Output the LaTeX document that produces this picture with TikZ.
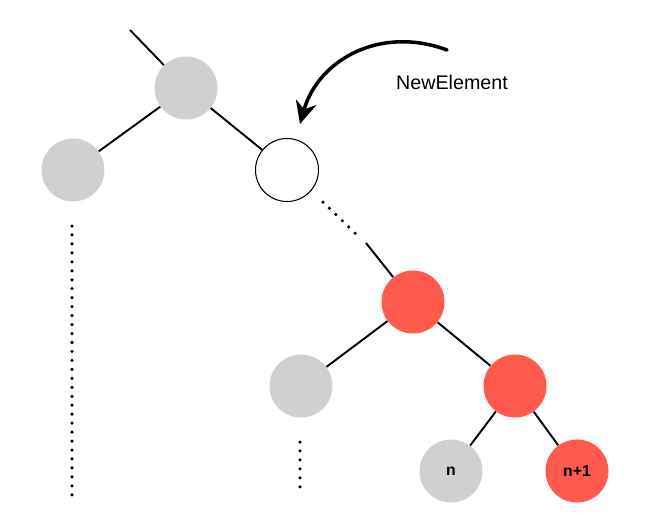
\documentclass[tikz,border=0pt]{standalone}
\usepackage{fontspec}
\setmainfont{Liberation Sans}
\usepackage{xcolor}
\usetikzlibrary{arrows.meta}
\definecolor{nodegrey}{HTML}{D0D0D0}
\definecolor{nodered}{HTML}{FF5A4C}

\begin{document}
\begin{tikzpicture}[x=0.02cm,y=-0.02cm,=>stealth,
  elem/.style={circle,minimum size=1.26cm,inner sep=0pt,font=\bfseries\small},
  greyelem/.style={elem,fill=nodegrey},
  redelem/.style={elem,fill=nodered},
  newelem/.style={elem,draw=black,line width=0.6pt,fill=white},
  edge/.style={line width=1.1pt},
  dots/.style={line width=2pt,line cap=round,dash pattern=on 0pt off 5.1pt}]
\useasboundingbox (0,0) rectangle (649,529);
% tree
\node[greyelem](root)at(186,88){};
\node[greyelem](left)at(73,170){};
\node[newelem](new)at(287,170){};
\node[redelem](ra)at(413,302){};
\node[greyelem](mid)at(301,386){};
\node[redelem](rb)at(515,386){};
\node[greyelem](n)at(451,471){n};
\node[redelem](np)at(577,471){n+1};
\coordinate(top)at(130,30);
\coordinate(gapo)at(323,202);
\coordinate(gapa)at(356,234);
\coordinate(gapb)at(366,243);
\draw[edge](top)--(root);
\draw[edge](root)--(left);
\draw[edge](root)--(new);
\draw[dots](gapo)--(gapa);
\draw[edge](gapb)--(ra);
\draw[edge](ra)--(mid);
\draw[edge](ra)--(rb);
\draw[edge](rb)--(n);
\draw[edge](rb)--(np);
% dotted subtrees
\coordinate(la)at(72,226);
\coordinate(lb)at(72,495);
\coordinate(ma)at(300,442);
\coordinate(mb)at(300,495);
\draw[dots](la)--(lb);
\draw[dots](ma)--(mb);
% insertion arrow
\node[font=\fontsize{11.2}{13}\selectfont](lbl)at(452,82){NewElement};
\coordinate(from)at(447,50);
\coordinate(to)at(300,124);
\draw[line width=2pt,line cap=round,-{Stealth[length=0.45cm,width=0.42cm]}](from)
  ..controls(380,25)and(318,60)..(to);
\end{tikzpicture}
\end{document}
